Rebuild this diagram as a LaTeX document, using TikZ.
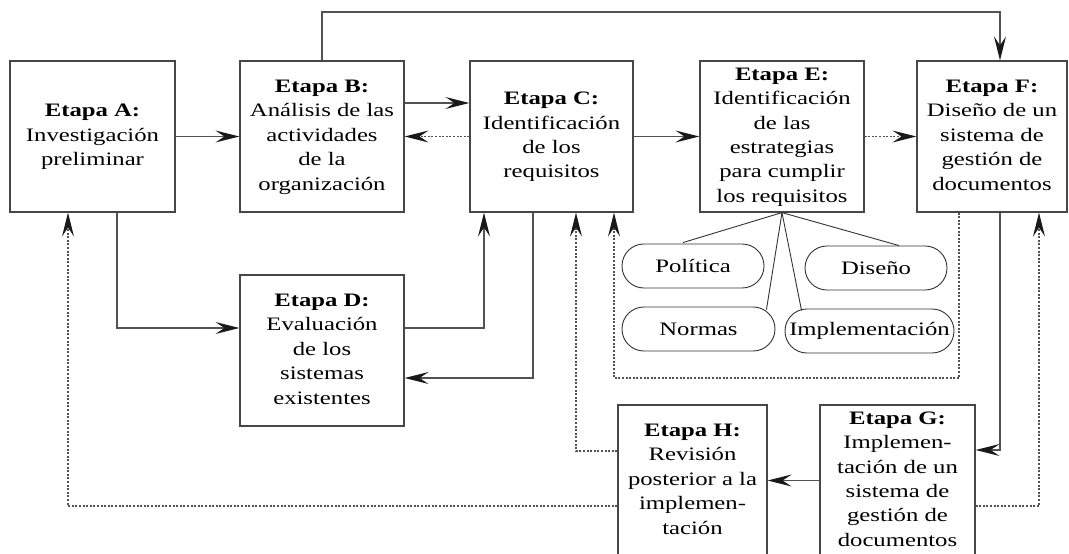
\documentclass[tikz,border=0pt]{standalone}
\usepackage{graphicx}
\usepackage{fontspec}
\setmainfont{Liberation Serif}
\usetikzlibrary{arrows.meta,calc}
\newcommand\stx[1]{\scalebox{1.3}[1]{\begin{tabular}{@{}c@{}}#1\end{tabular}}}
\newcommand\sty[1]{\scalebox{1.3}[1]{#1}}
\tikzset{
  stagebox/.style={draw=black!72, line width=1.2pt, rectangle, minimum height=151pt,
    inner sep=0pt, text=black, font=\fontsize{19}{24.4}\selectfont},
  pill/.style={draw=black!80, line width=0.9pt, rectangle, rounded corners=21.9pt,
    minimum height=44pt, inner sep=0pt, text=black, font=\fontsize{19}{24.4}\selectfont},
  conn/.style={draw=black!68, line width=1.2pt},
  arr/.style={conn, -{Stealth[length=24pt,width=12pt,inset=9pt,color=black!90]}},
  dotl/.style={dash pattern=on 2pt off 1.6pt, line width=1.1pt},
  branch/.style={draw=black!80, line width=0.9pt}
}
\begin{document}
\begin{tikzpicture}[x=1pt,y=-1pt]
\useasboundingbox (0,0) rectangle (1069,554);
\fill[white] (0,0) rectangle (1069,554);
\clip (0,0) rectangle (1069,554);

% stage boxes
\node[stagebox, minimum width=165pt] (A) at (92.5,136.5) {\stx{\textbf{Etapa A:}\\Investigación\\preliminar}};
\node[stagebox, minimum width=164pt] (B) at (322,136.5) {\stx{\textbf{Etapa B:}\\Análisis de las\\actividades\\de la\\organización}};
\node[stagebox, minimum width=163pt] (C) at (551.5,136.5) {\stx{\textbf{Etapa C:}\\Identificación\\de los\\requisitos}};
\node[stagebox, minimum width=164pt] (E) at (782,136.5) {\stx{\textbf{Etapa E:}\\Identificación\\de las\\estrategias\\para cumplir\\los requisitos}};
\node[stagebox, minimum width=150pt] (F) at (992,136.5) {\stx{\textbf{Etapa F:}\\Diseño de un\\sistema de\\gestión de\\documentos}};
\node[stagebox, minimum width=164pt] (D) at (322,350.5) {\stx{\textbf{Etapa D:}\\Evaluación\\de los\\sistemas\\existentes}};
\node[stagebox, minimum width=149pt] (H) at (692.5,480.5) {\stx{\textbf{Etapa H:}\\Revisión\\posterior a la\\implemen-\\tación}};
\node[stagebox, minimum width=155pt] (G) at (897.5,480.5) {\stx{\textbf{Etapa G:}\\Implemen-\\tación de un\\sistema de\\gestión de\\documentos}};

% strategy pills
\node[pill, minimum width=142pt] (Pol) at (693,266) {\sty{Política}};
\node[pill, minimum width=142pt] (Dis) at (876,268) {\sty{Diseño}};
\node[pill, minimum width=153pt] (Nor) at (698.5,329) {\sty{Normas}};
\node[pill, minimum width=169pt] (Imp) at (869.5,331) {\sty{Implementación}};

% routing points
\coordinate (top) at (0,12);
\coordinate (rBC) at (0,103);
\coordinate (p1) at (117,328);
\coordinate (p2) at (484,328);
\coordinate (p3) at (533,378);
\coordinate (p4) at (576,451);
\coordinate (p5) at (959,378);
\coordinate (p6) at (614,378);
\coordinate (p7) at (1000,450);
\coordinate (p8) at (1039,506);
\coordinate (p9) at (68,506);

% top row
\draw[arr] (A.east) -- (B.west);
\draw[arr] (B.east |- rBC) -- (C.west |- rBC);
\draw[arr, dotl] (C.west) -- (B.east);
\draw[arr] (C.east) -- (E.west);
\draw[arr, dotl] (E.east) -- (F.west);
\draw[arr] (B.north) -- (B.north |- top) -- (p7 |- top) -- (F.north -| p7);

% D loop
\draw[arr] (A.south -| p1) -- (p1) -- (D.west |- p1);
\draw[arr] (D.east |- p2) -- (p2) -- (C.south -| p2);
\draw[arr] (C.south -| p3) -- (p3) -- (D.east |- p3);

% feedback to C
\draw[arr, dotl] (H.west |- p4) -- (p4) -- (C.south -| p4);
\draw[arr, dotl] (F.south -| p5) -- (p5) -- (p6) -- (C.south -| p6);

% F, G, H
\draw[arr] (F.south -| p7) -- (p7) -- (G.east |- p7);
\draw[arr] (G.west) -- (H.east);
\draw[arr, dotl] (G.east |- p8) -- (p8) -- (F.south -| p8);
\draw[arr, dotl] (H.west |- p9) -- (p9) -- (A.south -| p9);

% E branches
\draw[branch] (E.south) -- ($(Pol.north)+(-10,-1)$);
\draw[branch] (E.south) -- ($(Dis.north)+(23,0)$);
\draw[branch] (E.south) -- ($(Nor.north east)+(-9,3)$);
\draw[branch] (E.south) -- ($(Imp.north west)+(17,2)$);
\end{tikzpicture}
\end{document}
